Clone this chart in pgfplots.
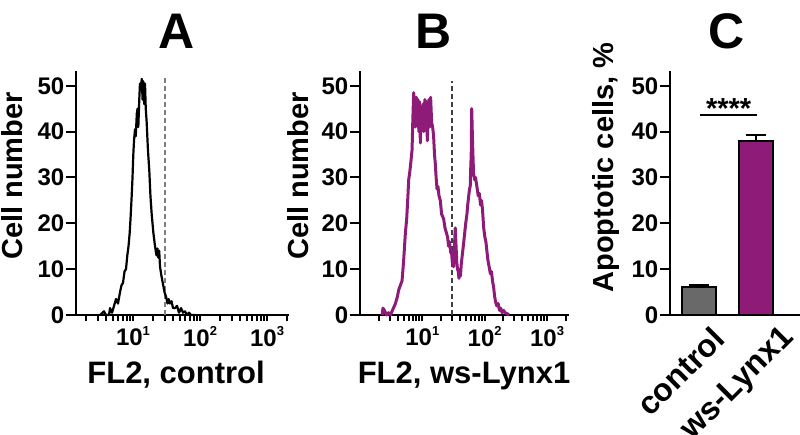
\documentclass[border=0pt]{standalone}
\usepackage{pgfplots}
\pgfplotsset{compat=1.18}
\usepackage{fontspec}
\setmainfont{Liberation Sans}
\definecolor{lynx}{RGB}{142,27,119}
\definecolor{ctrlgray}{RGB}{105,105,105}
\newcommand{\tfont}{\fontsize{24}{24}\selectfont\bfseries}
\newcommand{\lfont}{\fontsize{29}{29}\selectfont\bfseries}
\newcommand{\xfont}{\fontsize{31}{31}\selectfont\bfseries}
\newcommand{\cfont}{\fontsize{32}{32}\selectfont\bfseries}
\newcommand{\ttl}{\fontsize{50}{50}\selectfont\bfseries}
\newcommand{\sups}[1]{10\raisebox{0.45em}{\fontsize{13}{13}\selectfont\bfseries #1}}
\pgfplotsset{
  panel/.style={
    scale only axis, height=243pt, ymin=0, ymax=53,
    axis lines*=left, axis line style={line width=2pt, line cap=rect},
    tick align=outside, tick style={line width=2pt, black},
    ytick={0,10,20,30,40,50},
    major tick length=10pt, minor tick length=6pt,
    every tick label/.append style={font=\tfont},
    yticklabel style={inner sep=1.5pt},
    /pgf/number format/assume math mode=true,
    label style={font=\lfont},
    ylabel style={anchor=base},
    clip=false,
  },
  hist/.style={
    panel,
    xtick={10,100,1000}, xticklabels={\sups{1},\sups{2},\sups{3}},
    major x tick style={draw=none},
    minor xtick={2,3,4,5,6,7,8,9,10,20,30,40,50,60,70,80,90,100,200,300,400,500,600,700,800,900,1000,2000},
    xticklabel style={anchor=north, inner sep=1pt},
    xlabel style={anchor=base, font=\xfont},
  },
}
\begin{document}
\begin{tikzpicture}
\useasboundingbox (0,0) rectangle (800pt,434pt);
% ---------------- Panel A ----------------
\begin{axis}[xmode=log, hist, at={(76pt,119pt)}, anchor=south west, width=212pt,
  xmin=1.41, xmax=2056,
  xlabel={FL2, control}, ylabel={Cell number},
  xlabel style={at={(axis description cs:0.472,0)}, yshift=-68pt},
  ylabel style={at={(axis description cs:-0.25,0.572)}}]
\addplot[gray, dash pattern=on 5pt off 3pt, line width=2.2pt] coordinates {(30,0) (30,52)};
\addplot[black, line width=2.2pt, line join=round] coordinates {
(3.22,0) (3.69,0.8) (3.95,0) (4.38,0) (4.54,1.5) (4.86,0.5) (5.21,2) (5.58,3.5) (5.97,2.5) (6.40,5) (6.74,6.5) (7.09,7) (7.47,9.5) (7.86,10) (8.22,13) (8.57,15) (8.93,18) (9.18,21) (9.56,26) (9.83,30) (10.1,35) (10.35,38) (10.7,40.5) (11.0,39) (11.4,44) (11.7,45) (12.0,41) (12.4,47) (12.7,50.5) (13.1,49) (13.5,51.5) (13.9,47) (14.2,51) (14.7,46) (15.1,50.5) (15.5,45) (16.0,42) (16.7,36) (17.5,31.5) (18.2,26) (19.0,22) (20.1,18) (21.3,15) (22.4,13) (23.2,14.5) (23.9,12.5) (24.6,14) (25.3,10.5) (26.6,8.5) (27.8,7) (29.5,5) (31.1,4) (32.7,2.5) (33.9,3.5) (35.7,2.5) (37.6,3) (39.5,1.5) (42.4,1.5) (45.4,2) (48.6,0.5) (52.1,1.5) (55.8,0.5) (59.7,0.8) (64.0,0) (68.5,0.5) (73.4,0) (84.2,0)};
\end{axis}
% ---------------- Panel B ----------------
\begin{axis}[xmode=log, hist, at={(360pt,119pt)}, anchor=south west, width=208pt,
  xmin=1, xmax=2170,
  xlabel={FL2, ws-Lynx1}, ylabel={Cell number},
  xlabel style={at={(axis description cs:0.5,0)}, yshift=-68pt},
  ylabel style={at={(axis description cs:-0.2486,0.572)}}]
\addplot[black!75, dash pattern=on 5pt off 3pt, line width=2.2pt] coordinates {(30,0) (30,51)};
\addplot[lynx, line width=3pt, line join=round] coordinates {
(2.27,0) (2.33,1.5) (2.47,1) (2.65,0) (2.86,0.5) (3.08,0) (3.31,1) (3.70,2.5) (3.98,4) (4.18,5.5) (4.45,6.5) (4.73,7.5) (5.02,12) (5.35,18) (5.61,21) (5.82,25) (6.04,29.5) (6.26,31) (6.50,33) (6.84,36) (7.05,43) (7.26,48.5) (7.50,46) (7.73,41) (8.02,47.5) (8.23,43) (8.47,47) (8.79,40) (9.02,46.5) (9.29,37.5) (9.64,45) (10.0,41) (10.26,46) (10.57,40) (10.96,47) (11.29,43) (11.67,46.5) (12.02,38) (12.38,44) (12.71,47) (13.09,41) (13.58,47.5) (14.09,42) (14.62,41) (15.16,39) (15.67,35) (16.14,33) (16.63,30) (17.19,27.5) (17.83,28) (18.50,26) (19.41,25) (20.36,22) (21.92,21) (23.08,19) (24.21,18) (25.40,17) (26.35,15) (27.24,16) (28.58,13.5) (29.32,14) (30.20,11.5) (30.99,12.5) (31.68,10.5) (32.51,14) (33.73,19) (34.74,15) (35.65,11.5) (36.71,10) (37.67,9.5) (38.66,8) (39.81,10) (40.85,8.5) (42.07,11) (43.65,13) (45.79,15.5) (47.86,18) (49.66,20) (51.91,22) (53.46,24) (55.46,26) (57.15,27.5) (58.61,28) (59.70,32) (60.81,35) (61.94,45) (63.79,38) (66.19,31) (68.68,29.5) (71.26,30) (75.04,28) (78.70,26) (82.26,26.5) (85.66,24) (88.88,25) (92.22,23) (96.38,19) (100.7,17) (104.5,16) (108.4,14) (112.5,12) (118.0,10.5) (123.4,9) (128.5,9.5) (133.3,7.5) (139.3,6) (144.5,4) (148.9,3) (155.6,2) (164.4,2.5) (172.5,1) (180.3,1.5) (190.5,0.5) (201.4,1) (212.8,0.5) (229.1,0.3) (246.6,0)};
\end{axis}
% ---------------- Panel C ----------------
\begin{axis}[panel, at={(670pt,119pt)}, anchor=south west, width=130pt,
  xmin=-0.504, xmax=1.757,
  ybar, bar width=34pt, bar shift=0pt,
  xtick={0,1}, xticklabels={control, ws-Lynx1},
  xtick style={draw=none},
  xticklabel style={font=\cfont, xshift={20pt+13pt*\ticknum}, yshift=-8pt, rotate=45, anchor=east, inner sep=0pt},
  ylabel={Apoptotic cells, \%},
  ylabel style={at={(axis description cs:-0.436,0.607)}}]
\addplot[fill=ctrlgray, draw=black, line width=2pt,
  error bars/.cd, y dir=plus, y explicit,
  error bar style={line width=2pt, black},
  error mark options={rotate=90, mark size=10pt, line width=2pt, black}]
  coordinates {(0,6.0) +- (0,0.5)};
\addplot[fill=lynx, draw=black, line width=2pt,
  error bars/.cd, y dir=plus, y explicit,
  error bar style={line width=2pt, black},
  error mark options={rotate=90, mark size=10pt, line width=2pt, black}]
  coordinates {(1,37.9) +- (0,1.3)};
\draw[line width=2pt] (axis cs:0.02,43.7) -- (axis cs:1.01,43.7);
\node[font=\lfont, anchor=base, yshift=-4pt] at (axis cs:0.515,43.7) {****};
\end{axis}
% ---------------- Titles ----------------
\node[font=\ttl, anchor=base] at (177pt,385pt) {A};
\node[font=\ttl, anchor=base] at (434pt,385pt) {B};
\node[font=\ttl, anchor=base] at (727pt,385pt) {C};
\end{tikzpicture}
\end{document}
